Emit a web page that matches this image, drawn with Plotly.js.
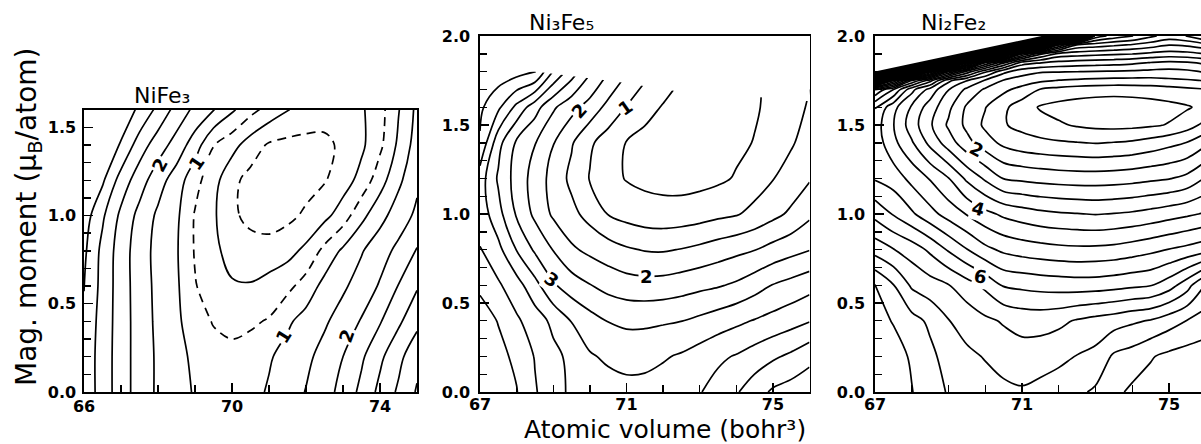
<!DOCTYPE html>
<html><head><meta charset="utf-8">
<script src="https://cdn.plot.ly/plotly-3.0.1.min.js"></script>
<style>html,body{margin:0;padding:0;overflow:hidden;background:#fff}#chart{width:1210px;height:444px}</style>
</head><body><div id="chart"></div>
<script>
// ---------- Panel 1: NiFe3 ----------
const p1Volume = [66,66.5,67,67.5,68,68.5,69,69.5,70,70.5,71,71.5,72,72.5,73,73.5,74,74.5,75];
const p1Moment = [0,0.2,0.4,0.6,0.8,1.0,1.2,1.4,1.6];
const p1Energy = [
 [3.33,2.78,2.24,1.78,1.42,1.17,0.96,0.80,0.72,0.85,1.05,1.28,1.52,1.81,2.16,2.63,3.13,3.58,4.05],
 [3.32,2.78,2.24,1.78,1.42,1.15,0.90,0.68,0.58,0.70,0.95,1.17,1.39,1.67,2.00,2.42,2.90,3.36,3.85],
 [3.38,2.80,2.25,1.77,1.39,1.11,0.70,0.47,0.42,0.43,0.54,0.92,1.19,1.43,1.72,2.04,2.46,2.91,3.36],
 [3.52,2.83,2.25,1.75,1.37,1.08,0.53,0.25,0.05,0.04,0.20,0.37,0.71,1.16,1.42,1.72,2.05,2.52,2.95],
 [3.60,2.86,2.26,1.73,1.35,1.05,0.46,0.11,-0.17,-0.32,-0.32,-0.17,0.12,0.64,1.09,1.46,1.80,2.12,2.54],
 [3.75,3.08,2.39,1.85,1.41,1.10,0.46,0.08,-0.42,-0.62,-0.70,-0.62,-0.42,-0.14,0.25,0.86,1.33,1.75,2.10],
 [3.85,3.58,2.79,2.23,1.71,1.26,0.67,0.19,-0.38,-0.65,-0.74,-0.75,-0.68,-0.54,-0.23,0.17,0.79,1.39,1.90],
 [3.90,3.75,3.47,2.75,2.25,1.80,1.25,0.52,0.19,-0.25,-0.56,-0.64,-0.63,-0.58,-0.43,-0.10,0.39,1.10,1.72],
 [3.95,3.85,3.70,3.44,2.86,2.33,1.88,1.52,1.08,0.67,0.32,0.03,-0.22,-0.35,-0.30,-0.07,0.32,0.97,1.62]
];
const p1XTicks = [66,70,74], p1XTickText = ['66','70','74'];
const p1YTicks = [0,0.5,1.0,1.5], p1YTickText = ['0.0','0.5','1.0','1.5'];
const p1Labels = [
 {x:68.05,y:1.29,t:'2',a:-62},{x:69.05,y:1.30,t:'1',a:-55},
 {x:71.40,y:0.32,t:'1',a:-58},{x:73.10,y:0.32,t:'2',a:-70}
];

// ---------- Panel 2: Ni3Fe5 ----------
const p2Volume = [67,67.5,68,68.5,69,69.5,70,70.5,71,71.5,72,72.5,73,73.5,74,74.5,75,75.5,76];
const p2Moment = [0,0.2,0.4,0.6,0.8,1.0,1.2,1.4,1.6,1.8];
const p2Energy = [
 [5.40,5.20,5.02,4.55,4.17,3.92,3.78,3.70,3.66,3.67,3.73,3.84,3.97,4.20,4.45,4.77,5.08,5.22,5.35],
 [5.30,5.12,4.91,4.47,4.13,3.88,3.55,3.42,3.33,3.35,3.45,3.56,3.72,3.90,4.04,4.23,4.42,4.60,4.85],
 [5.20,4.98,4.58,4.25,3.88,3.48,3.19,2.98,2.90,2.90,2.94,2.99,3.11,3.25,3.39,3.53,3.67,3.81,3.97],
 [4.92,4.57,4.20,3.67,3.06,2.74,2.52,2.33,2.22,2.18,2.20,2.28,2.37,2.45,2.58,2.79,3.02,3.17,3.33],
 [4.52,4.14,3.48,2.92,2.48,2.08,1.88,1.72,1.56,1.47,1.45,1.52,1.62,1.75,1.87,1.98,2.17,2.33,2.48],
 [4.30,3.67,2.94,2.39,1.92,1.64,1.32,0.98,0.82,0.72,0.69,0.71,0.78,0.88,0.96,1.14,1.36,1.59,1.90],
 [4.25,3.43,2.80,2.30,1.82,1.38,0.97,0.68,0.47,0.38,0.33,0.31,0.34,0.41,0.54,0.76,0.98,1.20,1.45],
 [4.95,3.67,2.92,2.52,2.02,1.55,1.08,0.76,0.48,0.32,0.24,0.20,0.22,0.30,0.40,0.52,0.73,0.95,1.20],
 [5.10,4.60,3.87,3.21,2.58,2.17,1.80,1.35,0.98,0.70,0.46,0.34,0.28,0.27,0.33,0.45,0.61,0.83,1.05],
 [5.40,5.30,5.20,5.05,3.98,3.25,2.57,2.02,1.55,1.13,0.84,0.55,0.45,0.38,0.38,0.45,0.58,0.75,0.95]
];
// upper limit of the computed region (lines stop there)
const p2EdgeX = [66.9,68.5,70.7,72.5,74.75,76.1];
const p2EdgeY = [1.83,1.80,1.745,1.685,1.655,1.632];
const p2XTicks = [67,71,75], p2XTickText = ['67','71','75'];
const p2YTicks = [0,0.5,1.0,1.5,2.0], p2YTickText = ['0.0','0.5','1.0','1.5','2.0'];
const p2Labels = [
 {x:69.72,y:1.58,t:'2',a:-48},{x:70.97,y:1.60,t:'1',a:-35},
 {x:71.55,y:0.65,t:'2',a:0},{x:68.95,y:0.63,t:'3',a:35}
];

// ---------- Panel 3: Ni2Fe2 ----------
const p3Volume = [67,67.5,68,68.5,69,69.5,70,70.5,71,71.5,72,72.5,73,73.5,74,74.5,75,75.5,76];
const p3Moment = [0,0.2,0.4,0.6,0.8,1.0,1.2,1.4,1.5,1.6,1.7,1.75,1.8,1.85,1.9,1.95,2.0];
const p3Energy = [
 [8.92,8.78,8.52,8.21,7.96,7.80,7.70,7.62,7.56,7.66,7.76,7.90,8.08,8.37,8.60,8.70,8.78,8.84,8.90],
 [8.82,8.70,8.44,8.12,7.80,7.60,7.47,7.30,7.22,7.27,7.38,7.52,7.64,8.08,8.22,8.46,8.62,8.72,8.80],
 [8.68,8.47,8.18,7.90,7.52,7.30,7.10,6.95,6.82,6.80,6.88,7.05,7.18,7.28,7.42,7.54,7.78,8.02,8.20],
 [8.52,8.02,7.42,7.21,7.02,6.72,6.39,5.95,5.88,5.82,5.78,5.75,5.76,5.82,5.90,5.97,6.27,6.80,7.60],
 [7.30,7.02,6.77,6.40,5.94,5.52,5.13,4.90,4.78,4.70,4.64,4.61,4.62,4.66,4.76,4.88,5.02,5.15,5.32],
 [6.35,5.96,5.58,5.17,4.80,4.47,4.15,3.90,3.75,3.63,3.56,3.52,3.48,3.52,3.58,3.68,3.80,3.92,4.05],
 [5.45,5.27,4.85,4.46,4.02,3.40,2.92,2.48,2.40,2.33,2.28,2.25,2.25,2.27,2.32,2.40,2.47,2.65,3.05],
 [5.30,4.64,4.06,3.36,2.75,2.17,1.72,1.38,1.20,1.12,1.06,1.02,0.98,1.02,1.08,1.20,1.36,1.52,1.90],
 [5.25,4.52,3.75,3.07,2.42,1.88,1.40,1.04,0.86,0.70,0.56,0.45,0.38,0.35,0.37,0.43,0.53,0.78,1.15],
 [5.52,4.67,3.93,3.25,2.62,1.92,1.52,1.10,0.75,0.45,0.33,0.26,0.22,0.20,0.22,0.27,0.35,0.45,0.65],
 [7.02,6.02,4.67,3.83,3.02,2.40,1.93,1.62,1.33,0.98,0.86,0.77,0.72,0.70,0.72,0.76,0.82,0.90,0.98],
 [13.0,9.02,6.52,5.20,3.63,3.02,2.45,1.97,1.78,1.60,1.48,1.42,1.37,1.34,1.33,1.33,1.40,1.45,1.52],
 [40,20.0,14.0,9.02,6.52,4.80,3.60,2.65,2.20,2.05,2.03,2.01,1.98,1.96,1.93,1.88,1.84,1.90,2.05],
 [40,40,40,22.0,16.0,9.02,6.02,4.60,3.28,3.02,2.85,2.78,2.73,2.68,2.60,2.48,2.40,2.45,2.60],
 [40,40,40,40,40,22.0,16.0,9.02,6.02,4.60,3.85,3.74,3.65,3.58,3.52,3.40,3.30,3.35,3.52],
 [40,40,40,40,40,40,40,24.0,18.0,10.0,6.52,4.90,4.76,4.60,4.45,4.25,4.02,4.10,4.35],
 [40,40,40,40,40,40,40,40,40,30.0,20.0,12.0,6.30,5.80,5.52,5.10,4.80,5.02,5.52]
];
// upper limit of the computed region
const p3EdgeX = [66.9,71.6];
const p3EdgeY = [1.796,2.003];
const p3XTicks = [67,71,75], p3XTickText = ['67','71','75'];
const p3YTicks = [0,0.5,1.0,1.5,2.0], p3YTickText = ['0.0','0.5','1.0','1.5','2.0'];
const p3Labels = [
 {x:69.77,y:1.36,t:'2',a:28},{x:69.81,y:1.03,t:'4',a:15},{x:69.86,y:0.648,t:'6',a:10}
];

const panelTitles = ['NiFe₃','Ni₃Fe₅','Ni₂Fe₂'];
const xTitle = 'Atomic volume (bohr³)';
const yTitle = 'Mag. moment (μ<sub>B</sub>/atom)';

// ---------- drawing ----------
const FONT = 'DejaVu Sans';
const W = 1210, H = 444;
const px = p => p / W, py = p => 1 - p / H;

function contour(x, y, z, xa, ya, start, end, size, dash) {
  return {type:'contour', x:x, y:y, z:z, xaxis:xa, yaxis:ya, autocontour:false,
    contours:{coloring:'none', start:start, end:end, size:size, showlabels:false},
    line:{color:'#000', width:1.7, dash:dash || 'solid', smoothing:1},
    showscale:false, hoverinfo:'skip'};
}
function mask(ex, ey, xa, ya, ytop) {
  const xs = ex.concat([ex[ex.length-1], ex[0]]);
  const ys = ey.concat([ytop, ytop]);
  return {type:'scatter', mode:'lines', x:xs, y:ys, xaxis:xa, yaxis:ya, fill:'toself',
    fillcolor:'#fff', line:{width:0, color:'#fff'}, hoverinfo:'skip', showlegend:false};
}

const traces = [
  contour(p1Volume, p1Moment, p1Energy, 'x', 'y', 1, 4.5, 0.5),
  contour(p1Volume, p1Moment, p1Energy, 'x', 'y', -2, 0, 2),
  contour(p1Volume, p1Moment, p1Energy, 'x', 'y', -0.5, 0.5, 1, '9px,6px'),
  contour(p2Volume, p2Moment, p2Energy, 'x2', 'y2', 0.5, 6, 0.5),
  mask(p2EdgeX, p2EdgeY, 'x2', 'y2', 2.2),
  contour(p3Volume, p3Moment, p3Energy, 'x3', 'y3', 0.5, 39.5, 0.5),
  mask(p3EdgeX, p3EdgeY, 'x3', 'y3', 2.2)
];

function axis(domain, range, anchor, tv, tt, minorStep, minor0, standoff) {
  return {domain:domain, range:range, anchor:anchor, tickmode:'array', tickvals:tv, ticktext:tt,
    showline:true, mirror:true, linecolor:'#000', linewidth:1.6,
    ticks:'inside', ticklen:9, tickwidth:1.4, tickcolor:'#000', ticklabelstandoff:standoff,
    minor:{tickmode:'linear', tick0:minor0, dtick:minorStep, ticks:'inside', ticklen:7, tickwidth:1.4, tickcolor:'#000'},
    showgrid:false, zeroline:false, fixedrange:true,
    tickfont:{family:FONT, size:16, color:'#000', weight:'bold'}};
}

const yDom1 = [py(392), py(109.6)], yDom2 = [py(392), py(36)];
const layout = {
  width:W, height:H, margin:{l:0, r:0, t:0, b:0}, paper_bgcolor:'#fff', plot_bgcolor:'#fff',
  showlegend:false,
  xaxis: axis([px(84), px(417)], [66,75], 'y', p1XTicks, p1XTickText, 1, 66, -1),
  yaxis: axis(yDom1, [0,1.6], 'x', p1YTicks, p1YTickText, 0.1, 0, 3),
  xaxis2: axis([px(480), px(809.5)], [67,76], 'y2', p2XTicks, p2XTickText, 1, 67, -3),
  yaxis2: axis(yDom2, [0,2], 'x2', p2YTicks, p2YTickText, 0.1, 0, 5),
  xaxis3: axis([px(875), px(1205.75)], [67,76], 'y3', p3XTicks, p3XTickText, 1, 67, -3),
  yaxis3: axis(yDom2, [0,2], 'x3', p3YTicks, p3YTickText, 0.1, 0, 5),
  annotations: []
};

const ann = layout.annotations;
ann.push({xref:'paper', yref:'paper', x:px(28), y:py(217), text:yTitle, textangle:-90, showarrow:false,
  xanchor:'center', yanchor:'middle', font:{family:FONT, size:28, color:'#000'}});
ann.push({xref:'paper', yref:'paper', x:px(665), y:py(429.5), text:xTitle, showarrow:false,
  xanchor:'center', yanchor:'middle', font:{family:FONT, size:25, color:'#000'}});
const titlePos = [[161.5, 95], [561, 22], [953, 22]];
panelTitles.forEach((t, i) => ann.push({xref:'paper', yref:'paper', x:px(titlePos[i][0]), y:py(titlePos[i][1]),
  text:t, showarrow:false, xanchor:'center', yanchor:'middle', font:{family:FONT, size:22, color:'#000'}}));

function addLabels(list, xr, yr) {
  list.forEach(l => ann.push({xref:xr, yref:yr, x:l.x, y:l.y, text:l.t, textangle:l.a, showarrow:false,
    xanchor:'center', yanchor:'middle', bgcolor:'#fff', borderpad:1,
    font:{family:FONT, size:18, color:'#000', weight:'bold'}}));
}
addLabels(p1Labels, 'x', 'y');
addLabels(p2Labels, 'x2', 'y2');
addLabels(p3Labels, 'x3', 'y3');

function addDy(a, b) {
  const ua = String(a || '0').replace(/[-+\d.]/g, ''), ub = String(b || '0').replace(/[-+\d.]/g, '');
  if (ua && ub && ua !== ub) return null;
  return (parseFloat(a || 0) + parseFloat(b || 0)) + (ua || ub);
}

Plotly.newPlot('chart', traces, layout, {staticPlot:true, displayModeBar:false}).then(function(gd){
  // tidy zero-width helper nodes that the sub-script markup leaves behind
  const ZW = /\u200b/g;
  gd.querySelectorAll('tspan').forEach(function(ts){
    if (ts.textContent.replace(ZW, '') !== '') return;
    const nx = ts.nextSibling;
    if (nx && nx.nodeType === 3 && nx.textContent.replace(ZW, '').length) {
      ts.textContent = nx.textContent; nx.parentNode.removeChild(nx); return;
    }
    if (!ts.hasAttribute('x') && !ts.hasAttribute('y')) {
      if (!ts.hasAttribute('dy')) { ts.parentNode.removeChild(ts); return; }
      const ne = ts.nextElementSibling;
      if (!ne) { ts.parentNode.removeChild(ts); return; }
      if (ne.tagName === 'tspan' && !ne.hasAttribute('x') && !ne.hasAttribute('y') && (!nx || nx === ne)) {
        const d = addDy(ts.getAttribute('dy'), ne.getAttribute('dy'));
        if (d !== null) { ne.setAttribute('dy', d); ts.parentNode.removeChild(ts); }
      }
    }
  });
  gd.querySelectorAll('text').forEach(function(t){ if (!t.textContent.replace(ZW, '').trim()) t.remove(); });
});
</script>
</body></html>
